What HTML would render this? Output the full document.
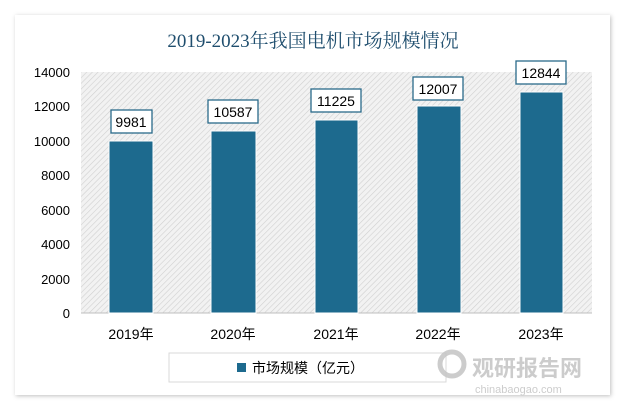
<!DOCTYPE html>
<html><head><meta charset="utf-8"><style>
body{margin:0;width:625px;height:410px;background:#fff;overflow:hidden;font-family:"Liberation Sans","Noto Sans CJK SC",sans-serif}
</style></head><body>
<svg width="625" height="410" viewBox="0 0 625 410">
<defs>
<pattern id="h" width="4" height="4" patternUnits="userSpaceOnUse" patternTransform="rotate(45)">
<rect width="4" height="4" fill="#f2f2f2"/><line x1="0" y1="0" x2="0" y2="4" stroke="#d0d0d0" stroke-width="1.2"/>
</pattern>
<filter id="s" x="-10%" y="-10%" width="120%" height="120%"><feDropShadow dx="1" dy="1" stdDeviation="2" flood-color="#000" flood-opacity="0.25"/></filter>
</defs>
<rect x="15" y="15" width="595" height="380" fill="#fff" filter="url(#s)"/>
<text x="313" y="47" text-anchor="middle" font-size="19" fill="#1f4e6e" font-family="Liberation Serif,'Noto Serif CJK SC',serif">2019-2023年我国电机市场规模情况</text>
<rect x="81" y="72" width="511" height="241" fill="url(#h)"/>
<line x1="81" y1="313" x2="592" y2="313" stroke="#bfbfbf"/>
<g font-size="13" fill="#000" text-anchor="end">
<text x="70" y="318">0</text><text x="70" y="284">2000</text><text x="70" y="249">4000</text><text x="70" y="215">6000</text><text x="70" y="180">8000</text><text x="70" y="146">10000</text><text x="70" y="111">12000</text><text x="70" y="77">14000</text>
</g>
<g fill="#1d6a8e" stroke="#fff" stroke-width="1">
<rect x="109" y="141" width="44" height="172"/>
<rect x="211" y="131" width="45" height="182"/>
<rect x="315" y="120" width="43" height="193"/>
<rect x="417" y="106" width="44" height="207"/>
<rect x="520" y="92" width="43" height="221"/>
</g>
<g fill="#fff" stroke="#2a6a8a" stroke-width="1.3">
<rect x="111" y="110" width="41" height="23"/>
<rect x="208" y="100" width="50" height="23"/>
<rect x="311" y="89" width="50" height="23"/>
<rect x="413" y="77" width="50" height="23"/>
<rect x="516" y="61" width="50" height="23"/>
</g>
<g font-size="14" text-anchor="middle" fill="#000">
<text x="131" y="127">9981</text><text x="233" y="117">10587</text><text x="336" y="106">11225</text><text x="438" y="94">12007</text><text x="541" y="78">12844</text>
<text x="131" y="339">2019年</text><text x="233" y="339">2020年</text><text x="336" y="339">2021年</text><text x="438" y="339">2022年</text><text x="541" y="339">2023年</text>
</g>
<rect x="169" y="353" width="277" height="29" fill="#fff" stroke="#d9d9d9"/>
<rect x="237" y="363" width="9" height="9" fill="#1d6a8e"/>
<text x="252" y="373" font-size="14" fill="#000">市场规模（亿元）</text>
<g fill="#c4c4c4" opacity="0.85">
<circle cx="452" cy="364" r="12" fill="none" stroke="#c4c4c4" stroke-width="5"/>
<text x="472" y="376" font-size="22" font-weight="bold">观研报告网</text>
<text x="475" y="393" font-size="11">chinabaogao.com</text>
</g>
</svg>
</body></html>
